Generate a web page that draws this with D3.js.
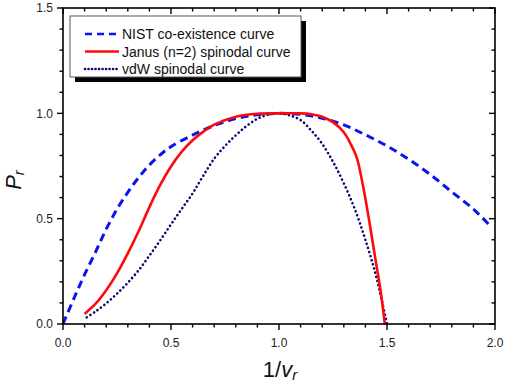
<!DOCTYPE html>
<html>
<head>
<meta charset="utf-8">
<script src="https://cdn.jsdelivr.net/npm/d3@7"></script>
<style>
  body { margin: 0; background: #fff; }
  svg { display: block; font-family: "Liberation Sans", Arial, sans-serif; }
</style>
</head>
<body>
<svg id="chart"></svg>
<script>
// values (x = 1/v_r, y = P_r)
var nistX = [0, 0.05, 0.1, 0.15, 0.2, 0.25, 0.3, 0.35, 0.4, 0.45, 0.5, 0.6, 0.7, 0.8, 0.9, 1.0, 1.1, 1.2, 1.3, 1.4, 1.5, 1.6, 1.7, 1.8, 1.9, 1.97];
var nistY = [0, 0.12, 0.235, 0.34, 0.45, 0.545, 0.625, 0.695, 0.755, 0.803, 0.842, 0.897, 0.942, 0.975, 0.993, 1.0, 0.995, 0.977, 0.945, 0.898, 0.845, 0.782, 0.71, 0.627, 0.545, 0.474];

var janusX = [0.1, 0.15, 0.2, 0.25, 0.3, 0.35, 0.4, 0.45, 0.5, 0.55, 0.6, 0.65, 0.7, 0.8, 0.9, 1.0, 1.1, 1.15, 1.2, 1.25, 1.3, 1.33, 1.36, 1.39, 1.42, 1.45, 1.47, 1.49];
var janusY = [0.048, 0.095, 0.16, 0.24, 0.335, 0.44, 0.555, 0.66, 0.748, 0.818, 0.872, 0.913, 0.946, 0.984, 0.998, 1.0, 1.0, 0.996, 0.984, 0.958, 0.91, 0.858, 0.79, 0.65, 0.475, 0.285, 0.16, 0.0];

var vdwX = [0.11, 0.15, 0.2, 0.25, 0.3, 0.35, 0.4, 0.45, 0.5, 0.55, 0.6, 0.65, 0.7, 0.75, 0.8, 0.85, 0.9, 0.95, 1.0, 1.05, 1.1, 1.15, 1.2, 1.25, 1.3, 1.35, 1.4, 1.45, 1.5];
var vdwY = [0.032, 0.059, 0.098, 0.144, 0.196, 0.255, 0.325, 0.397, 0.473, 0.547, 0.62, 0.705, 0.785, 0.845, 0.896, 0.94, 0.974, 0.994, 1.0, 0.99, 0.968, 0.918, 0.855, 0.77, 0.668, 0.548, 0.4, 0.225, 0.0];

var seriesNames = ["NIST co-existence curve", "Janus (n=2) spinodal curve", "vdW spinodal curve"];
var xTicks = [0, 0.5, 1.0, 1.5, 2.0];
var yTicks = [0, 0.5, 1.0, 1.5];

var W = 505, H = 382;
var margin = {top: 8, right: 10, bottom: 58, left: 63};
var width = W - margin.left - margin.right,
    height = H - margin.top - margin.bottom;

var svg = d3.select("#chart").attr("width", W).attr("height", H);
var g = svg.append("g").attr("transform", "translate(" + margin.left + "," + margin.top + ")");

var x = d3.scaleLinear().domain([0, 2]).range([0, width]);
var y = d3.scaleLinear().domain([0, 1.5]).range([height, 0]);

var minorX = d3.range(0, 21).map(function(i) { return i / 10; });
var minorY = d3.range(0, 16).map(function(i) { return i / 10; });
var isMajor = function(v) { return Math.abs(v * 2 - Math.round(v * 2)) < 1e-6; };

// curves
function line(xs, ys) {
  return d3.line().curve(d3.curveCatmullRom.alpha(0.5))
    .x(function(d) { return x(d[0]); })
    .y(function(d) { return y(d[1]); })(d3.zip(xs, ys));
}

g.append("path").attr("d", line(nistX, nistY))
  .attr("fill", "none").attr("stroke", "#0a14f0").attr("stroke-width", 3)
  .attr("stroke-dasharray", "8,5");
g.append("path").attr("d", line(vdwX, vdwY))
  .attr("fill", "none").attr("stroke", "#0a0a6e").attr("stroke-width", 2.6)
  .attr("stroke-linecap", "round").attr("stroke-dasharray", "0.1,4.2");
g.append("path").attr("d", line(janusX, janusY))
  .attr("fill", "none").attr("stroke", "#ff0a0a").attr("stroke-width", 2.6);

// frame
g.append("rect").attr("width", width).attr("height", height)
  .attr("fill", "none").attr("stroke", "#000").attr("stroke-width", 1.6);

// ticks: bottom & left point out, top & right point in
function tickLines(cls, data, attrs) {
  var sel = g.append("g").attr("class", cls).selectAll("line").data(data).join("line")
    .attr("stroke", "#000").attr("stroke-width", 1.4);
  Object.keys(attrs).forEach(function(k) { sel.attr(k, attrs[k]); });
}
var len = function(d) { return isMajor(d) ? 6 : 3.5; };
tickLines("bx", minorX, {
  x1: function(d) { return x(d); }, x2: function(d) { return x(d); },
  y1: height, y2: function(d) { return height + len(d); }
});
tickLines("tx", minorX, {
  x1: function(d) { return x(d); }, x2: function(d) { return x(d); },
  y1: 0, y2: function(d) { return len(d); }
});
tickLines("ly", minorY, {
  y1: function(d) { return y(d); }, y2: function(d) { return y(d); },
  x1: 0, x2: function(d) { return -len(d); }
});
tickLines("ry", minorY, {
  y1: function(d) { return y(d); }, y2: function(d) { return y(d); },
  x1: width, x2: function(d) { return width - len(d); }
});

// tick labels
g.append("g").selectAll("text").data(xTicks).join("text")
  .attr("x", function(d) { return x(d); }).attr("y", height + 23)
  .attr("text-anchor", "middle").attr("font-size", 12).attr("fill", "#222")
  .text(d3.format(".1f"));
g.append("g").selectAll("text").data(yTicks).join("text")
  .attr("x", -10).attr("y", function(d) { return y(d) + 4.3; })
  .attr("text-anchor", "end").attr("font-size", 12).attr("fill", "#222")
  .text(d3.format(".1f"));

// legend
var lg = svg.append("g").attr("transform", "translate(70,16)");
lg.append("rect").attr("x", 5).attr("y", 5).attr("width", 231).attr("height", 61).attr("fill", "#000");
lg.append("rect").attr("width", 231).attr("height", 61).attr("fill", "#fff")
  .attr("stroke", "#555").attr("stroke-width", 1);
var legStyles = [
  {color: "#0a14f0", w: 2.6, dash: "7,5", cap: "butt"},
  {color: "#ff0a0a", w: 2.6, dash: null, cap: "butt"},
  {color: "#0a0a6e", w: 2.6, dash: "0.1,3.4", cap: "round"}
];
seriesNames.forEach(function(name, i) {
  var yy = 18 + i * 17.5;
  lg.append("line").attr("x1", 15).attr("x2", 49).attr("y1", yy).attr("y2", yy)
    .attr("stroke", legStyles[i].color).attr("stroke-width", legStyles[i].w)
    .attr("stroke-linecap", legStyles[i].cap)
    .attr("stroke-dasharray", legStyles[i].dash);
  lg.append("text").attr("x", 52).attr("y", yy + 5)
    .attr("font-size", 14).attr("fill", "#111").text(name);
});

// axis titles
var xt = svg.append("text").attr("x", 280).attr("y", 377).attr("text-anchor", "middle")
  .attr("font-size", 22).attr("fill", "#111");
xt.append("tspan").text("1/");
xt.append("tspan").attr("font-style", "italic").text("v");
xt.append("tspan").attr("font-style", "italic").attr("font-size", 15).attr("dy", 3).text("r");

var yt = svg.append("text").attr("transform", "translate(21,180) rotate(-90)")
  .attr("text-anchor", "middle").attr("font-size", 22).attr("fill", "#111");
yt.append("tspan").attr("font-style", "italic").text("P");
yt.append("tspan").attr("font-style", "italic").attr("font-size", 15).attr("dy", 3).text("r");
</script>
</body>
</html>
